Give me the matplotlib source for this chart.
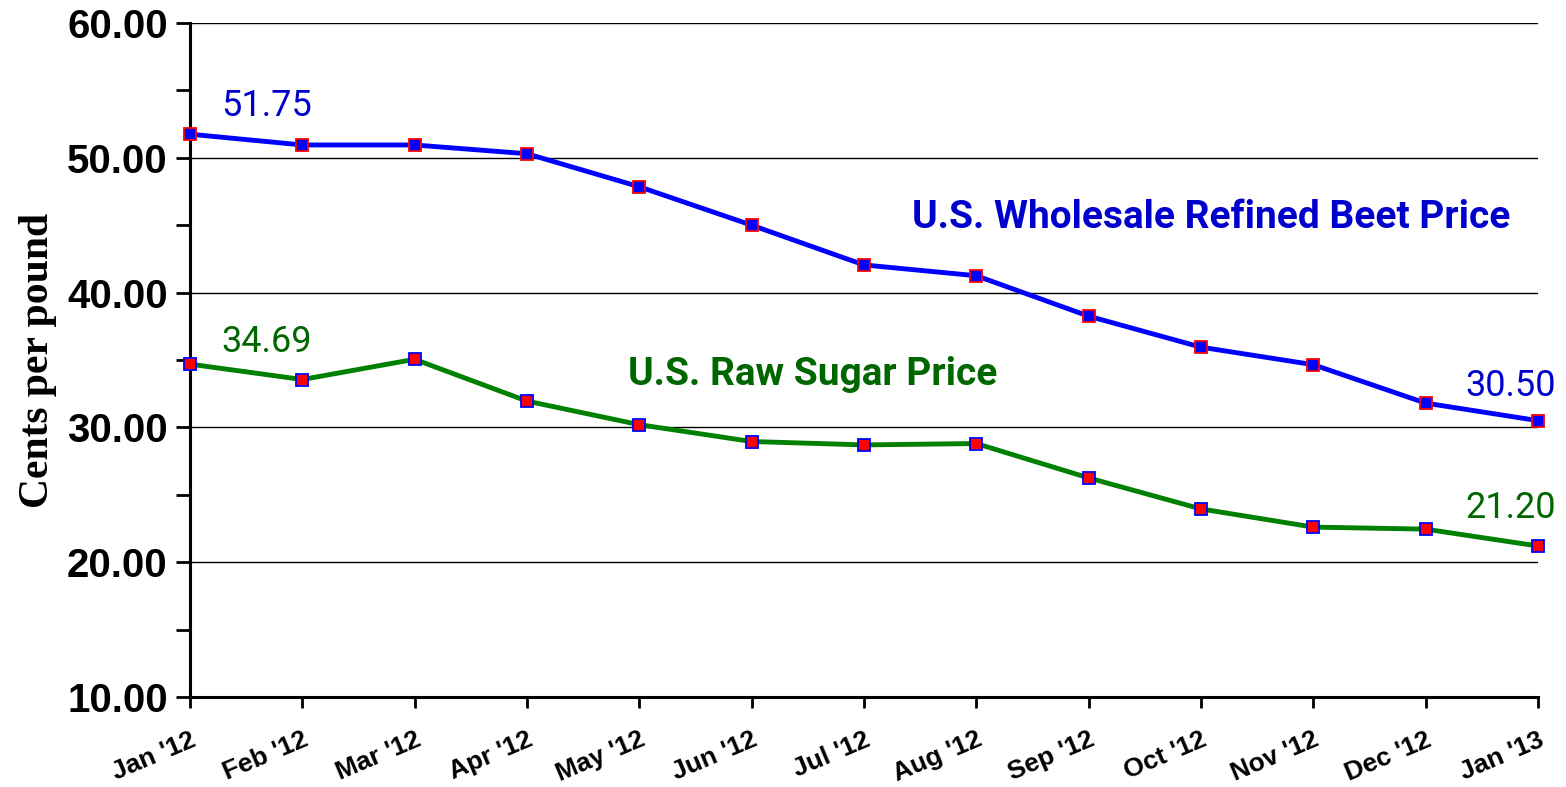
import matplotlib
matplotlib.use("Agg")
import matplotlib.pyplot as plt
from matplotlib.ticker import MultipleLocator

months = ["Jan '12", "Feb '12", "Mar '12", "Apr '12", "May '12", "Jun '12",
          "Jul '12", "Aug '12", "Sep '12", "Oct '12", "Nov '12", "Dec '12",
          "Jan '13"]
beet_price = [51.75, 50.95, 50.95, 50.30, 47.85, 45.00, 42.05,
              41.25, 38.25, 35.95, 34.65, 31.80, 30.50]
raw_price = [34.69, 33.55, 35.05, 31.95, 30.20, 28.95, 28.70,
             28.80, 26.25, 23.95, 22.60, 22.45, 21.20]

fig = plt.figure(figsize=(15.66, 7.87), dpi=100)
ax = fig.add_axes([0.1213, 0.1144, 0.8608, 0.8564])

x = list(range(len(months)))
ax.plot(x, beet_price, "-s", color="#0000FF", lw=3.5, ms=8.5,
        mfc="#0000FF", mec="#FF0000", mew=1.3, zorder=3, clip_on=False)
ax.plot(x, raw_price, "-s", color="#008000", lw=3.5, ms=8.5,
        mfc="#FF0000", mec="#0000FF", mew=1.3, zorder=3, clip_on=False)

ax.set_xlim(0, len(months) - 1)
ax.set_ylim(10, 60)
ax.yaxis.set_major_locator(MultipleLocator(10))
ax.yaxis.set_minor_locator(MultipleLocator(5))
ax.yaxis.set_major_formatter(lambda v, p: f"{v:.2f}")
ax.grid(axis="y", which="major", color="black", lw=1)
ax.set_axisbelow(True)

for s in ("top", "right"):
    ax.spines[s].set_visible(False)
for s in ("left", "bottom"):
    ax.spines[s].set_linewidth(2.2)

ax.tick_params(axis="y", which="both", direction="out", length=10, width=2,
               labelsize=29, pad=6)
ax.tick_params(axis="x", direction="out", length=8, width=2, pad=14)
for lab in ax.get_yticklabels():
    lab.set_fontweight("bold")
    lab.set_family("Liberation Sans")

ax.set_xticks(x)
ax.set_xticklabels(months, rotation=23, ha="right", rotation_mode="anchor",
                   fontsize=19, fontweight="bold", family="Liberation Sans")

ax.set_ylabel("Cents per pound", family="Liberation Serif", fontweight="bold",
              fontsize=30, labelpad=7)

# end-point value labels
num_kw = dict(family="Roboto", fontsize=26, va="center")
ax.text(0.28, 53.85, f"{beet_price[0]:.2f}", color="#0000CC", ha="left", **num_kw)
ax.text(0.28, 36.35, f"{raw_price[0]:.2f}", color="#006600", ha="left", **num_kw)
ax.text(12.16, 33.1, f"{beet_price[-1]:.2f}", color="#0000CC", ha="right", **num_kw)
ax.text(12.16, 24.05, f"{raw_price[-1]:.2f}", color="#006600", ha="right", **num_kw)

# series names
lab_kw = dict(family="Roboto", fontsize=28, fontweight="bold", va="center", ha="left")
ax.text(6.43, 45.6, "U.S. Wholesale Refined Beet Price", color="#0000CC", **lab_kw)
ax.text(3.9, 33.9, "U.S. Raw Sugar Price", color="#006600", **lab_kw)

fig.savefig("out.png", dpi=100)
